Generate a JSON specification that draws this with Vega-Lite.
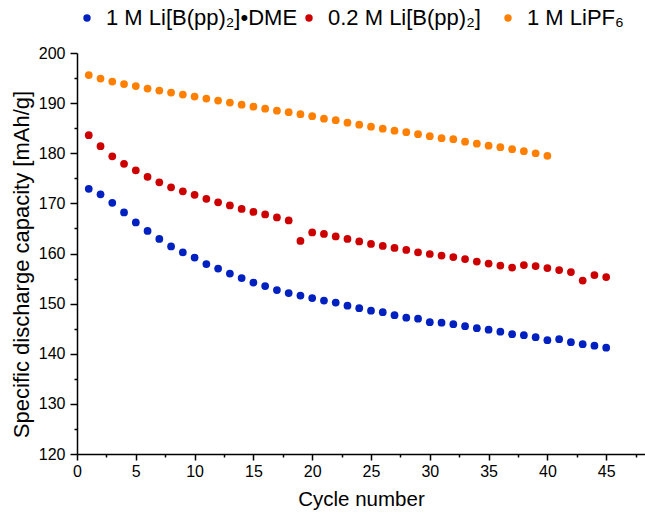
{
  "$schema": "https://vega.github.io/schema/vega-lite/v6.json",
  "width": 568,
  "height": 401,
  "autosize": {"type": "none"},
  "padding": {"left": 77, "top": 53, "right": 0, "bottom": 61},
  "config": {"view": {"stroke": null}, "font": "Liberation Sans"},
  "data": {"values": [
    {"cycle":1,"cap":172.9,"series":"1 M Li[B(pp)₂]•DME"},
    {"cycle":2,"cap":171.8,"series":"1 M Li[B(pp)₂]•DME"},
    {"cycle":3,"cap":170.1,"series":"1 M Li[B(pp)₂]•DME"},
    {"cycle":4,"cap":168.2,"series":"1 M Li[B(pp)₂]•DME"},
    {"cycle":5,"cap":166.2,"series":"1 M Li[B(pp)₂]•DME"},
    {"cycle":6,"cap":164.5,"series":"1 M Li[B(pp)₂]•DME"},
    {"cycle":7,"cap":162.9,"series":"1 M Li[B(pp)₂]•DME"},
    {"cycle":8,"cap":161.4,"series":"1 M Li[B(pp)₂]•DME"},
    {"cycle":9,"cap":160.2,"series":"1 M Li[B(pp)₂]•DME"},
    {"cycle":10,"cap":159.2,"series":"1 M Li[B(pp)₂]•DME"},
    {"cycle":11,"cap":157.9,"series":"1 M Li[B(pp)₂]•DME"},
    {"cycle":12,"cap":157.0,"series":"1 M Li[B(pp)₂]•DME"},
    {"cycle":13,"cap":156.0,"series":"1 M Li[B(pp)₂]•DME"},
    {"cycle":14,"cap":155.1,"series":"1 M Li[B(pp)₂]•DME"},
    {"cycle":15,"cap":154.2,"series":"1 M Li[B(pp)₂]•DME"},
    {"cycle":16,"cap":153.5,"series":"1 M Li[B(pp)₂]•DME"},
    {"cycle":17,"cap":152.7,"series":"1 M Li[B(pp)₂]•DME"},
    {"cycle":18,"cap":152.1,"series":"1 M Li[B(pp)₂]•DME"},
    {"cycle":19,"cap":151.6,"series":"1 M Li[B(pp)₂]•DME"},
    {"cycle":20,"cap":151.1,"series":"1 M Li[B(pp)₂]•DME"},
    {"cycle":21,"cap":150.6,"series":"1 M Li[B(pp)₂]•DME"},
    {"cycle":22,"cap":150.2,"series":"1 M Li[B(pp)₂]•DME"},
    {"cycle":23,"cap":149.6,"series":"1 M Li[B(pp)₂]•DME"},
    {"cycle":24,"cap":149.1,"series":"1 M Li[B(pp)₂]•DME"},
    {"cycle":25,"cap":148.6,"series":"1 M Li[B(pp)₂]•DME"},
    {"cycle":26,"cap":148.3,"series":"1 M Li[B(pp)₂]•DME"},
    {"cycle":27,"cap":147.7,"series":"1 M Li[B(pp)₂]•DME"},
    {"cycle":28,"cap":147.2,"series":"1 M Li[B(pp)₂]•DME"},
    {"cycle":29,"cap":147.0,"series":"1 M Li[B(pp)₂]•DME"},
    {"cycle":30,"cap":146.3,"series":"1 M Li[B(pp)₂]•DME"},
    {"cycle":31,"cap":146.2,"series":"1 M Li[B(pp)₂]•DME"},
    {"cycle":32,"cap":145.9,"series":"1 M Li[B(pp)₂]•DME"},
    {"cycle":33,"cap":145.5,"series":"1 M Li[B(pp)₂]•DME"},
    {"cycle":34,"cap":145.1,"series":"1 M Li[B(pp)₂]•DME"},
    {"cycle":35,"cap":144.8,"series":"1 M Li[B(pp)₂]•DME"},
    {"cycle":36,"cap":144.4,"series":"1 M Li[B(pp)₂]•DME"},
    {"cycle":37,"cap":143.9,"series":"1 M Li[B(pp)₂]•DME"},
    {"cycle":38,"cap":143.7,"series":"1 M Li[B(pp)₂]•DME"},
    {"cycle":39,"cap":143.3,"series":"1 M Li[B(pp)₂]•DME"},
    {"cycle":40,"cap":142.7,"series":"1 M Li[B(pp)₂]•DME"},
    {"cycle":41,"cap":142.9,"series":"1 M Li[B(pp)₂]•DME"},
    {"cycle":42,"cap":142.3,"series":"1 M Li[B(pp)₂]•DME"},
    {"cycle":43,"cap":141.9,"series":"1 M Li[B(pp)₂]•DME"},
    {"cycle":44,"cap":141.6,"series":"1 M Li[B(pp)₂]•DME"},
    {"cycle":45,"cap":141.2,"series":"1 M Li[B(pp)₂]•DME"},
    {"cycle":1,"cap":183.6,"series":"0.2 M Li[B(pp)₂]"},
    {"cycle":2,"cap":181.4,"series":"0.2 M Li[B(pp)₂]"},
    {"cycle":3,"cap":179.4,"series":"0.2 M Li[B(pp)₂]"},
    {"cycle":4,"cap":177.9,"series":"0.2 M Li[B(pp)₂]"},
    {"cycle":5,"cap":176.6,"series":"0.2 M Li[B(pp)₂]"},
    {"cycle":6,"cap":175.3,"series":"0.2 M Li[B(pp)₂]"},
    {"cycle":7,"cap":174.2,"series":"0.2 M Li[B(pp)₂]"},
    {"cycle":8,"cap":173.2,"series":"0.2 M Li[B(pp)₂]"},
    {"cycle":9,"cap":172.4,"series":"0.2 M Li[B(pp)₂]"},
    {"cycle":10,"cap":171.7,"series":"0.2 M Li[B(pp)₂]"},
    {"cycle":11,"cap":170.9,"series":"0.2 M Li[B(pp)₂]"},
    {"cycle":12,"cap":170.2,"series":"0.2 M Li[B(pp)₂]"},
    {"cycle":13,"cap":169.6,"series":"0.2 M Li[B(pp)₂]"},
    {"cycle":14,"cap":168.9,"series":"0.2 M Li[B(pp)₂]"},
    {"cycle":15,"cap":168.3,"series":"0.2 M Li[B(pp)₂]"},
    {"cycle":16,"cap":167.8,"series":"0.2 M Li[B(pp)₂]"},
    {"cycle":17,"cap":167.2,"series":"0.2 M Li[B(pp)₂]"},
    {"cycle":18,"cap":166.6,"series":"0.2 M Li[B(pp)₂]"},
    {"cycle":19,"cap":162.5,"series":"0.2 M Li[B(pp)₂]"},
    {"cycle":20,"cap":164.2,"series":"0.2 M Li[B(pp)₂]"},
    {"cycle":21,"cap":163.9,"series":"0.2 M Li[B(pp)₂]"},
    {"cycle":22,"cap":163.4,"series":"0.2 M Li[B(pp)₂]"},
    {"cycle":23,"cap":162.9,"series":"0.2 M Li[B(pp)₂]"},
    {"cycle":24,"cap":162.4,"series":"0.2 M Li[B(pp)₂]"},
    {"cycle":25,"cap":161.9,"series":"0.2 M Li[B(pp)₂]"},
    {"cycle":26,"cap":161.5,"series":"0.2 M Li[B(pp)₂]"},
    {"cycle":27,"cap":161.1,"series":"0.2 M Li[B(pp)₂]"},
    {"cycle":28,"cap":160.7,"series":"0.2 M Li[B(pp)₂]"},
    {"cycle":29,"cap":160.2,"series":"0.2 M Li[B(pp)₂]"},
    {"cycle":30,"cap":159.9,"series":"0.2 M Li[B(pp)₂]"},
    {"cycle":31,"cap":159.6,"series":"0.2 M Li[B(pp)₂]"},
    {"cycle":32,"cap":159.3,"series":"0.2 M Li[B(pp)₂]"},
    {"cycle":33,"cap":158.9,"series":"0.2 M Li[B(pp)₂]"},
    {"cycle":34,"cap":158.4,"series":"0.2 M Li[B(pp)₂]"},
    {"cycle":35,"cap":158.0,"series":"0.2 M Li[B(pp)₂]"},
    {"cycle":36,"cap":157.6,"series":"0.2 M Li[B(pp)₂]"},
    {"cycle":37,"cap":157.2,"series":"0.2 M Li[B(pp)₂]"},
    {"cycle":38,"cap":157.7,"series":"0.2 M Li[B(pp)₂]"},
    {"cycle":39,"cap":157.5,"series":"0.2 M Li[B(pp)₂]"},
    {"cycle":40,"cap":157.1,"series":"0.2 M Li[B(pp)₂]"},
    {"cycle":41,"cap":156.7,"series":"0.2 M Li[B(pp)₂]"},
    {"cycle":42,"cap":156.3,"series":"0.2 M Li[B(pp)₂]"},
    {"cycle":43,"cap":154.6,"series":"0.2 M Li[B(pp)₂]"},
    {"cycle":44,"cap":155.7,"series":"0.2 M Li[B(pp)₂]"},
    {"cycle":45,"cap":155.3,"series":"0.2 M Li[B(pp)₂]"},
    {"cycle":1,"cap":195.6,"series":"1 M LiPF₆"},
    {"cycle":2,"cap":194.9,"series":"1 M LiPF₆"},
    {"cycle":3,"cap":194.3,"series":"1 M LiPF₆"},
    {"cycle":4,"cap":193.8,"series":"1 M LiPF₆"},
    {"cycle":5,"cap":193.4,"series":"1 M LiPF₆"},
    {"cycle":6,"cap":192.9,"series":"1 M LiPF₆"},
    {"cycle":7,"cap":192.5,"series":"1 M LiPF₆"},
    {"cycle":8,"cap":192.1,"series":"1 M LiPF₆"},
    {"cycle":9,"cap":191.7,"series":"1 M LiPF₆"},
    {"cycle":10,"cap":191.3,"series":"1 M LiPF₆"},
    {"cycle":11,"cap":190.9,"series":"1 M LiPF₆"},
    {"cycle":12,"cap":190.5,"series":"1 M LiPF₆"},
    {"cycle":13,"cap":190.1,"series":"1 M LiPF₆"},
    {"cycle":14,"cap":189.7,"series":"1 M LiPF₆"},
    {"cycle":15,"cap":189.3,"series":"1 M LiPF₆"},
    {"cycle":16,"cap":188.9,"series":"1 M LiPF₆"},
    {"cycle":17,"cap":188.5,"series":"1 M LiPF₆"},
    {"cycle":18,"cap":188.2,"series":"1 M LiPF₆"},
    {"cycle":19,"cap":187.8,"series":"1 M LiPF₆"},
    {"cycle":20,"cap":187.4,"series":"1 M LiPF₆"},
    {"cycle":21,"cap":186.9,"series":"1 M LiPF₆"},
    {"cycle":22,"cap":186.6,"series":"1 M LiPF₆"},
    {"cycle":23,"cap":186.1,"series":"1 M LiPF₆"},
    {"cycle":24,"cap":185.7,"series":"1 M LiPF₆"},
    {"cycle":25,"cap":185.3,"series":"1 M LiPF₆"},
    {"cycle":26,"cap":184.9,"series":"1 M LiPF₆"},
    {"cycle":27,"cap":184.5,"series":"1 M LiPF₆"},
    {"cycle":28,"cap":184.2,"series":"1 M LiPF₆"},
    {"cycle":29,"cap":183.8,"series":"1 M LiPF₆"},
    {"cycle":30,"cap":183.4,"series":"1 M LiPF₆"},
    {"cycle":31,"cap":183.0,"series":"1 M LiPF₆"},
    {"cycle":32,"cap":182.8,"series":"1 M LiPF₆"},
    {"cycle":33,"cap":182.3,"series":"1 M LiPF₆"},
    {"cycle":34,"cap":181.9,"series":"1 M LiPF₆"},
    {"cycle":35,"cap":181.5,"series":"1 M LiPF₆"},
    {"cycle":36,"cap":181.2,"series":"1 M LiPF₆"},
    {"cycle":37,"cap":180.8,"series":"1 M LiPF₆"},
    {"cycle":38,"cap":180.4,"series":"1 M LiPF₆"},
    {"cycle":39,"cap":180.0,"series":"1 M LiPF₆"},
    {"cycle":40,"cap":179.5,"series":"1 M LiPF₆"}
  ]},
  "mark": {"type": "point", "filled": true, "size": 60, "opacity": 1},
  "encoding": {
    "x": {
      "field": "cycle", "type": "quantitative",
      "scale": {"domain": [0, 48.3], "nice": false, "zero": false},
      "axis": {
        "title": "Cycle number",
        "values": [0,2.5,5,7.5,10,12.5,15,17.5,20,22.5,25,27.5,30,32.5,35,37.5,40,42.5,45,47.5],
        "labelExpr": "datum.value % 5 === 0 ? datum.label : ''",
        "tickSize": {"condition": {"test": "datum.value % 5 === 0", "value": 6}, "value": 3},
        "grid": false, "domainColor": "black", "domainWidth": 1.5,
        "tickColor": "black", "tickWidth": 1.5,
        "labelFontSize": 16, "labelColor": "black", "labelPadding": 3,
        "labelOverlap": false, "labelFlush": false,
        "titleFontSize": 20.5, "titleFontWeight": "normal", "titleColor": "black", "titlePadding": 10
      }
    },
    "y": {
      "field": "cap", "type": "quantitative",
      "scale": {"domain": [120, 200], "nice": false, "zero": false},
      "axis": {
        "title": "Specific discharge capacity [mAh/g]",
        "values": [120,125,130,135,140,145,150,155,160,165,170,175,180,185,190,195,200],
        "labelExpr": "datum.value % 10 === 0 ? datum.label : ''",
        "tickSize": {"condition": {"test": "datum.value % 10 === 0", "value": 7}, "value": 3},
        "grid": false, "domainColor": "black", "domainWidth": 1.5,
        "tickColor": "black", "tickWidth": 1.5,
        "labelFontSize": 16, "labelColor": "black", "labelPadding": 5,
        "labelOverlap": false, "labelFlush": false,
        "titleFontSize": 22, "titleFontWeight": "normal", "titleColor": "black", "titlePadding": 5,
        "titleY": 211
      }
    },
    "color": {
      "field": "series", "type": "nominal",
      "scale": {
        "domain": ["1 M Li[B(pp)₂]•DME", "0.2 M Li[B(pp)₂]", "1 M LiPF₆"],
        "range": ["#0020C0", "#CC0000", "#FF8000"]
      },
      "legend": {
        "orient": "none", "direction": "horizontal", "legendX": -1, "legendY": -46,
        "title": null, "labelFontSize": 22, "labelColor": "black", "labelLimit": 400,
        "labelExpr": "datum.label == '0.2 M Li[B(pp)₂]' ? datum.label + '\u2800' : datum.label",
        "symbolType": "circle", "symbolSize": 55, "labelOffset": 8, "columnPadding": 0, "padding": 0
      }
    }
  }
}
